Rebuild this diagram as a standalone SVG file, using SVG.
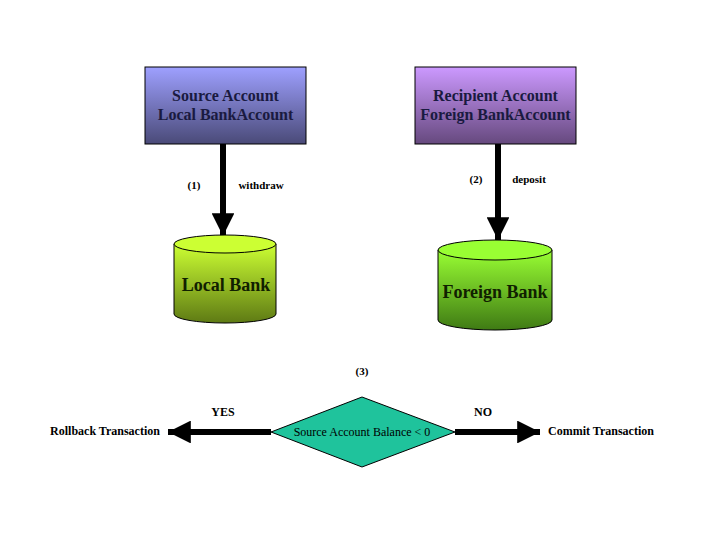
<svg xmlns="http://www.w3.org/2000/svg" width="720" height="540" viewBox="0 0 720 540">
<defs>
<linearGradient id="gSrc" x1="0" y1="0" x2="0" y2="1"><stop offset="0" stop-color="#9ea0ff"/><stop offset="1" stop-color="#4a4a78"/></linearGradient>
<linearGradient id="gRec" x1="0" y1="0" x2="0" y2="1"><stop offset="0" stop-color="#cc99ff"/><stop offset="1" stop-color="#66497e"/></linearGradient>
<linearGradient id="gLoc" x1="0" y1="0" x2="0" y2="1"><stop offset="0" stop-color="#ccff33"/><stop offset="1" stop-color="#5e7a14"/></linearGradient>
<linearGradient id="gFor" x1="0" y1="0" x2="0" y2="1"><stop offset="0" stop-color="#99ff33"/><stop offset="1" stop-color="#3f7a14"/></linearGradient>
<marker id="ah" viewBox="0 0 10 10" refX="10" refY="5" markerWidth="3.8" markerHeight="3.8" markerUnits="strokeWidth" orient="auto"><path d="M0,0 L10,5 L0,10 Z" fill="#000"/></marker>
</defs>
<style>
text{font-family:"Liberation Serif","Times New Roman",serif;fill:#000;text-anchor:middle}
.t{font-size:16px;font-weight:bold;fill:#1a1a40}
.big{font-size:18px;font-weight:bold;fill:#102000}
.s{font-size:11px;font-weight:bold}
.m{font-size:12px;font-weight:bold}
.c{stroke:#000;stroke-width:6;fill:none;marker-end:url(#ah)}
</style>
<rect width="720" height="540" fill="#fff"/>
<g id="connectors">
<line class="c" x1="223" y1="144" x2="223" y2="236"/>
<line class="c" x1="498" y1="144" x2="498" y2="240"/>
<line class="c" x1="271" y1="432" x2="168" y2="432"/>
<line class="c" x1="455" y1="432" x2="540" y2="432"/>
<text class="s" x="194" y="189">(1)</text>
<text class="s" x="261" y="189">withdraw</text>
<text class="s" x="476" y="183">(2)</text>
<text class="s" x="529" y="183">deposit</text>
<text class="s" x="362" y="375">(3)</text>
<text class="m" x="223" y="416">YES</text>
<text class="m" x="483" y="416">NO</text>
</g>
<g id="source">
<rect x="145" y="67" width="161" height="77" fill="url(#gSrc)" stroke="#000" stroke-width="1"/>
<text class="t" x="225.5" y="101">Source Account</text>
<text class="t" x="225.5" y="120">Local BankAccount</text>
</g>
<g id="recipient">
<rect x="415" y="67" width="161" height="77" fill="url(#gRec)" stroke="#000" stroke-width="1"/>
<text class="t" x="495.5" y="101">Recipient Account</text>
<text class="t" x="495.5" y="120">Foreign BankAccount</text>
</g>
<g id="localbank">
<path d="M174,244 L174,314 A51,9 0 0 0 276,314 L276,244 Z" fill="url(#gLoc)" stroke="#000" stroke-width="1"/>
<ellipse cx="225" cy="244" rx="51" ry="9" fill="#ccff33" stroke="#000" stroke-width="1"/>
<text class="big" x="226" y="291">Local Bank</text>
</g>
<g id="foreignbank">
<path d="M438,250 L438,320 A57,10 0 0 0 552,320 L552,250 Z" fill="url(#gFor)" stroke="#000" stroke-width="1"/>
<ellipse cx="495" cy="250" rx="57" ry="10" fill="#99ff33" stroke="#000" stroke-width="1"/>
<text class="big" x="495" y="298">Foreign Bank</text>
</g>
<g id="decision">
<polygon points="362,397 455,432 362,467 271,432" fill="#1fc39c" stroke="#000" stroke-width="1"/>
<text x="362" y="436" style="font-size:12px">Source Account Balance &lt; 0</text>
</g>
<g id="rollback"><text class="m" x="105" y="435">Rollback Transaction</text></g>
<g id="commit"><text class="m" x="601" y="435">Commit Transaction</text></g>
</svg>
